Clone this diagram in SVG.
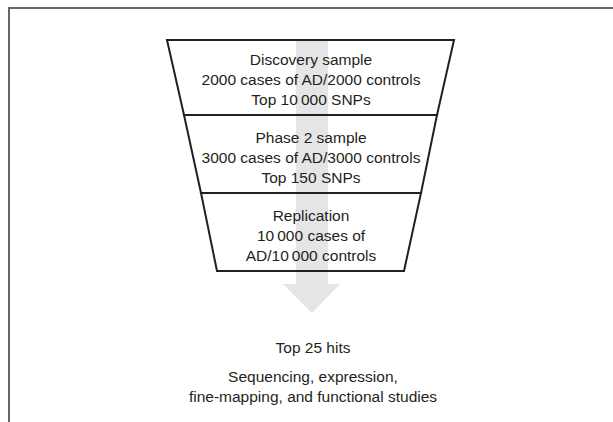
<svg xmlns="http://www.w3.org/2000/svg" width="613" height="422" viewBox="0 0 613 422">
<style>
.t{font-family:"Liberation Sans",Arial,sans-serif;font-size:15.5px;fill:#231f20;text-anchor:middle}
.stage{fill:none;stroke:#231f20;stroke-width:2;stroke-linejoin:miter}
</style>
<rect width="613" height="422" fill="#fff"/>
<path d="M9,422 V8 H613" fill="none" stroke="#666" stroke-width="2"/>
<g id="flow-arrow">
<path d="M296,40 H328 V284 H340 L312,313 L283,284 H296 Z" fill="#e5e5e7"/>
</g>
<g id="connectors"></g>
<g id="discovery">
<path class="stage" d="M167,40 H454 L437,115 H184 Z"/>
<text class="t" x="311" y="65">Discovery sample</text>
<text class="t" x="311" y="85">2000 cases of AD/2000 controls</text>
<text class="t" x="311" y="105">Top 10&#x2009;000 SNPs</text>
</g>
<g id="phase2">
<path class="stage" d="M184,115 H437 L421,193 H201 Z"/>
<text class="t" x="311" y="143">Phase 2 sample</text>
<text class="t" x="311" y="163">3000 cases of AD/3000 controls</text>
<text class="t" x="311" y="183">Top 150 SNPs</text>
</g>
<g id="replication">
<path class="stage" d="M201,193 H421 L404,271 H217 Z"/>
<text class="t" x="311" y="221">Replication</text>
<text class="t" x="311" y="241">10&#x2009;000 cases of</text>
<text class="t" x="311" y="261">AD/10&#x2009;000 controls</text>
</g>
<g id="results">
<text class="t" x="313" y="353">Top 25 hits</text>
<text class="t" x="313" y="382">Sequencing, expression,</text>
<text class="t" x="313" y="402">fine-mapping, and functional studies</text>
</g>
</svg>
